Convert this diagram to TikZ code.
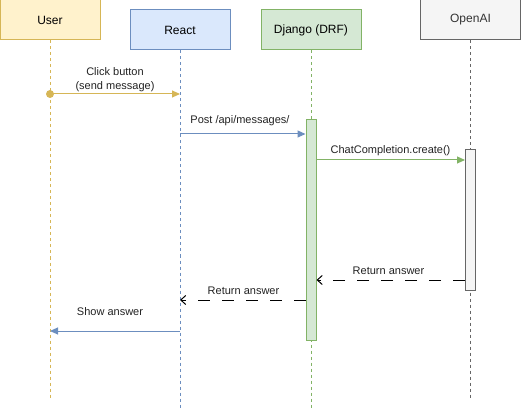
\documentclass[tikz,border=0pt]{standalone}
\usepackage{fontspec}
\setmainfont{Liberation Sans}
\usetikzlibrary{arrows.meta}
\definecolor{ufill}{HTML}{FFF2CC}\definecolor{uline}{HTML}{D6B656}
\definecolor{rfill}{HTML}{DAE8FC}\definecolor{rline}{HTML}{6C8EBF}
\definecolor{dfill}{HTML}{D5E8D4}\definecolor{dline}{HTML}{82B366}
\definecolor{ofill}{HTML}{F5F5F5}\definecolor{oline}{HTML}{666666}
\definecolor{otext}{HTML}{333333}
\definecolor{lbl}{HTML}{222222}
\tikzset{
  actor/.style={draw, line width=1pt, minimum width=100pt, minimum height=40pt, inner sep=0pt, font=\fontsize{12}{14}\selectfont},
  life/.style={line width=1pt, dash pattern=on 3pt off 3pt},
  act/.style={draw, line width=1pt, minimum width=10pt, inner sep=0pt},
  msg/.style={line width=1pt, -{Triangle[length=8pt,width=7pt]}},
  ret/.style={line width=1pt, black, dash pattern=on 12pt off 12pt, -{Straight Barb[length=5pt,width=9pt,line width=1pt]}},
  mlabel/.style={font=\fontsize{11}{14}\selectfont, text=lbl, align=center, inner sep=0pt}
}
\begin{document}
\begin{tikzpicture}[x=1pt,y=-1pt]
\useasboundingbox (0,0) rectangle (521,411);
% actors
\node[actor, fill=ufill, draw=uline] (user) at (50,20) {User};
\node[actor, fill=rfill, draw=rline] (react) at (180,30) {React};
\node[actor, fill=dfill, draw=dline] (django) at (311,30) {Django (DRF)};
\node[actor, fill=ofill, draw=oline, text=otext] (openai) at (470.5,20) {OpenAI};
% lifeline ends
\coordinate (userend) at (50,398);
\coordinate (reactend) at (180,408);
\coordinate (djangoend) at (311,408);
\coordinate (openaiend) at (470.5,398);
\draw[life, uline] (user.south) -- (userend);
\draw[life, rline] (react.south) -- (reactend);
\draw[life, dline] (django.south) -- (djangoend);
\draw[life, oline] (openai.south) -- (openaiend);
% activations
\node[act, fill=dfill, draw=dline, minimum height=220pt] (djact) at (311,230) {};
\node[act, fill=ofill, draw=oline, minimum height=140pt] (oaact) at (470.5,220) {};
% message endpoints
\coordinate (m1s) at (50,94);
\coordinate (m1e) at (180,94);
\coordinate (m2s) at (180,134);
\coordinate (m6s) at (180,331);
\coordinate (m6e) at (50,331);
\coordinate (m5e) at (180,300);
% messages
\fill[uline] (m1s) circle (4pt);
\draw[msg, uline] (m1s) -- (m1e);
\node[mlabel, anchor=south] (l1) at (115,92) {Click button\\(send message)};
\draw[msg, rline] (m2s) -- (djact.west |- m2s);
\node[mlabel] (l2) at (240,121) {Post /api/messages/};
\draw[msg, dline] (djact.east |- 0,160) -- (oaact.west |- 0,160);
\node[mlabel] (l3) at (390.5,151) {ChatCompletion.create()};
\draw[ret] (oaact.west |- 0,280) -- (djact.east |- 0,280);
\node[mlabel] (l4) at (388.5,271) {Return answer};
\draw[ret] (djact.west |- 0,300) -- (m5e);
\node[mlabel] (l5) at (243.5,291) {Return answer};
\draw[msg, rline] (m6s) -- (m6e);
\node[mlabel] (l6) at (110,312) {Show answer};
\end{tikzpicture}
\end{document}
